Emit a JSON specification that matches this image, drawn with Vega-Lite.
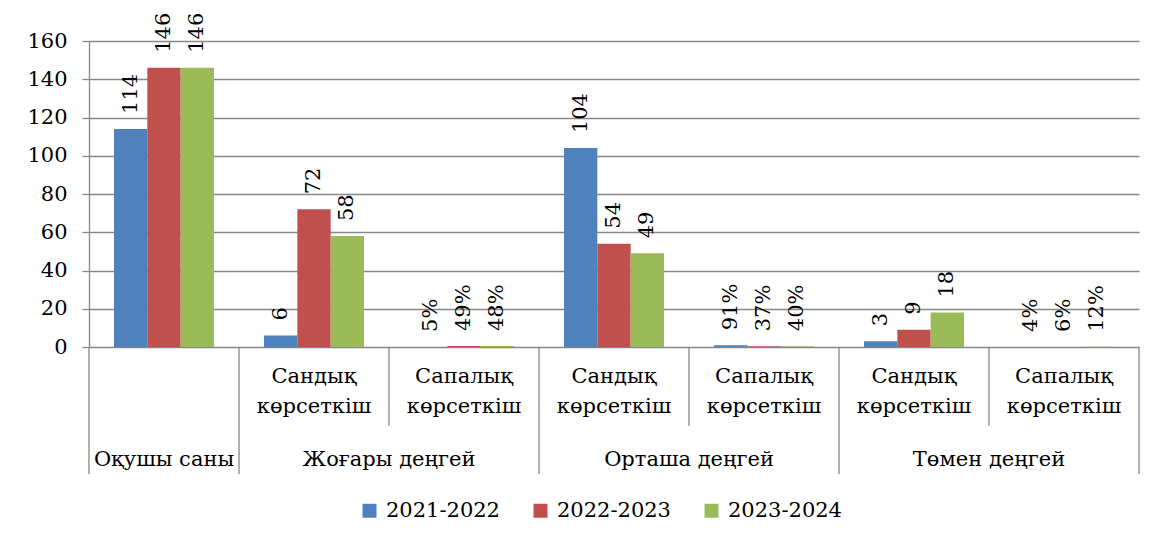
{
  "$schema": "https://vega.github.io/schema/vega-lite/v6.json",
  "padding": {"left": 26, "top": 12, "right": 20, "bottom": 5},
  "background": "white",
  "bounds": "flush",
  "config": {"view": {"stroke": null}, "font": "DejaVu Serif", "text": {"font": "DejaVu Serif"}, "axis": {"labelFont": "DejaVu Serif"}, "legend": {"labelFont": "DejaVu Serif"}},
  "spacing": 0,
  "resolve": {"scale": {"x": "shared", "y": "independent"}},
  "datasets": {
    "bars": [
      {"cat": "Оқушы саны", "group": "Оқушы саны", "sub": "", "kind": "count", "year": "2021-2022", "value": 114},
      {"cat": "Оқушы саны", "group": "Оқушы саны", "sub": "", "kind": "count", "year": "2022-2023", "value": 146},
      {"cat": "Оқушы саны", "group": "Оқушы саны", "sub": "", "kind": "count", "year": "2023-2024", "value": 146},
      {"cat": "Жоғары – Сандық", "group": "Жоғары деңгей", "sub": "Сандық көрсеткіш", "kind": "count", "year": "2021-2022", "value": 6},
      {"cat": "Жоғары – Сандық", "group": "Жоғары деңгей", "sub": "Сандық көрсеткіш", "kind": "count", "year": "2022-2023", "value": 72},
      {"cat": "Жоғары – Сандық", "group": "Жоғары деңгей", "sub": "Сандық көрсеткіш", "kind": "count", "year": "2023-2024", "value": 58},
      {"cat": "Жоғары – Сапалық", "group": "Жоғары деңгей", "sub": "Сапалық көрсеткіш", "kind": "share", "year": "2021-2022", "value": 0.05},
      {"cat": "Жоғары – Сапалық", "group": "Жоғары деңгей", "sub": "Сапалық көрсеткіш", "kind": "share", "year": "2022-2023", "value": 0.49},
      {"cat": "Жоғары – Сапалық", "group": "Жоғары деңгей", "sub": "Сапалық көрсеткіш", "kind": "share", "year": "2023-2024", "value": 0.48},
      {"cat": "Орташа – Сандық", "group": "Орташа деңгей", "sub": "Сандық көрсеткіш", "kind": "count", "year": "2021-2022", "value": 104},
      {"cat": "Орташа – Сандық", "group": "Орташа деңгей", "sub": "Сандық көрсеткіш", "kind": "count", "year": "2022-2023", "value": 54},
      {"cat": "Орташа – Сандық", "group": "Орташа деңгей", "sub": "Сандық көрсеткіш", "kind": "count", "year": "2023-2024", "value": 49},
      {"cat": "Орташа – Сапалық", "group": "Орташа деңгей", "sub": "Сапалық көрсеткіш", "kind": "share", "year": "2021-2022", "value": 0.91},
      {"cat": "Орташа – Сапалық", "group": "Орташа деңгей", "sub": "Сапалық көрсеткіш", "kind": "share", "year": "2022-2023", "value": 0.37},
      {"cat": "Орташа – Сапалық", "group": "Орташа деңгей", "sub": "Сапалық көрсеткіш", "kind": "share", "year": "2023-2024", "value": 0.40},
      {"cat": "Төмен – Сандық", "group": "Төмен деңгей", "sub": "Сандық көрсеткіш", "kind": "count", "year": "2021-2022", "value": 3},
      {"cat": "Төмен – Сандық", "group": "Төмен деңгей", "sub": "Сандық көрсеткіш", "kind": "count", "year": "2022-2023", "value": 9},
      {"cat": "Төмен – Сандық", "group": "Төмен деңгей", "sub": "Сандық көрсеткіш", "kind": "count", "year": "2023-2024", "value": 18},
      {"cat": "Төмен – Сапалық", "group": "Төмен деңгей", "sub": "Сапалық көрсеткіш", "kind": "share", "year": "2021-2022", "value": 0.04},
      {"cat": "Төмен – Сапалық", "group": "Төмен деңгей", "sub": "Сапалық көрсеткіш", "kind": "share", "year": "2022-2023", "value": 0.06},
      {"cat": "Төмен – Сапалық", "group": "Төмен деңгей", "sub": "Сапалық көрсеткіш", "kind": "share", "year": "2023-2024", "value": 0.12}
    ],
    "cats": [
      {"cat": "Оқушы саны", "group": "Оқушы саны", "sub": ""},
      {"cat": "Жоғары – Сандық", "group": "Жоғары деңгей", "sub": "Сандық көрсеткіш"},
      {"cat": "Жоғары – Сапалық", "group": "Жоғары деңгей", "sub": "Сапалық көрсеткіш"},
      {"cat": "Орташа – Сандық", "group": "Орташа деңгей", "sub": "Сандық көрсеткіш"},
      {"cat": "Орташа – Сапалық", "group": "Орташа деңгей", "sub": "Сапалық көрсеткіш"},
      {"cat": "Төмен – Сандық", "group": "Төмен деңгей", "sub": "Сандық көрсеткіш"},
      {"cat": "Төмен – Сапалық", "group": "Төмен деңгей", "sub": "Сапалық көрсеткіш"}
    ]
  },
  "vconcat": [
    {
      "width": 1050,
      "height": 306,
      "data": {"name": "bars"},
      "encoding": {
        "x": {"field": "cat", "type": "nominal", "scale": {"domain": ["Оқушы саны", "Жоғары – Сандық", "Жоғары – Сапалық", "Орташа – Сандық", "Орташа – Сапалық", "Төмен – Сандық", "Төмен – Сапалық"], "paddingInner": 0, "paddingOuter": 0}, "axis": null},
        "xOffset": {"field": "year", "type": "nominal", "scale": {"paddingInner": 0, "paddingOuter": 0.75}},
        "y": {"field": "value", "type": "quantitative", "scale": {"domain": [0, 160], "nice": false},
          "axis": {"values": [0, 20, 40, 60, 80, 100, 120, 140, 160], "title": null, "grid": true, "gridColor": "#878787", "gridWidth": 1.3, "domainColor": "#878787", "domainWidth": 1.3, "tickColor": "#878787", "tickWidth": 1.3, "tickSize": 7, "labelFont": "DejaVu Serif", "labelFontSize": 21, "labelColor": "black", "labelPadding": 15}}
      },
      "layer": [
        {
          "mark": {"type": "bar"},
          "encoding": {
            "color": {"field": "year", "type": "nominal", "scale": {"domain": ["2021-2022", "2022-2023", "2023-2024"], "range": ["#4F81BD", "#C0504D", "#9BBB59"]},
              "legend": {"orient": "none", "legendX": 270, "legendY": 459, "direction": "horizontal", "title": null, "symbolType": "square", "symbolSize": 196, "symbolStrokeWidth": 0, "labelFont": "DejaVu Serif", "labelFontSize": 21, "labelColor": "black", "columnPadding": 30, "labelOffset": 6}}
          }
        },
        {
          "transform": [{"filter": "datum.kind == 'count'"}],
          "mark": {"type": "text", "angle": 270, "align": "left", "baseline": "middle", "dx": 15, "font": "DejaVu Serif", "fontSize": 21, "color": "black"},
          "encoding": {"text": {"field": "value", "type": "quantitative", "format": "d"}}
        },
        {
          "transform": [{"filter": "datum.kind == 'share'"}],
          "mark": {"type": "text", "angle": 270, "align": "left", "baseline": "middle", "dx": 15, "font": "DejaVu Serif", "fontSize": 21, "color": "black"},
          "encoding": {"text": {"field": "value", "type": "quantitative", "format": ".0%"}}
        }
      ]
    },
    {
      "width": 1050,
      "height": 127,
      "data": {"name": "cats"},
      "encoding": {
        "y": {"datum": 0, "type": "quantitative", "scale": {"domain": [0, 1], "reverse": true, "nice": false}, "axis": null}
      },
      "layer": [
        {
          "transform": [{"filter": "datum.sub != 'Сапалық көрсеткіш'"}],
          "mark": {"type": "rule", "color": "#878787", "strokeWidth": 1.3},
          "encoding": {
            "x": {"field": "cat", "type": "nominal", "bandPosition": 0, "scale": {"domain": ["Оқушы саны", "Жоғары – Сандық", "Жоғары – Сапалық", "Орташа – Сандық", "Орташа – Сапалық", "Төмен – Сандық", "Төмен – Сапалық"], "paddingInner": 0, "paddingOuter": 0}, "axis": null},
            "y2": {"datum": 1}
          }
        },
        {
          "transform": [{"filter": "datum.sub == 'Сапалық көрсеткіш'"}],
          "mark": {"type": "rule", "color": "#878787", "strokeWidth": 1.3},
          "encoding": {
            "x": {"field": "cat", "type": "nominal", "bandPosition": 0, "axis": null},
            "y2": {"datum": 0.62}
          }
        },
        {
          "transform": [{"filter": "datum.cat == 'Төмен – Сапалық'"}],
          "mark": {"type": "rule", "color": "#878787", "strokeWidth": 1.3},
          "encoding": {
            "x": {"field": "cat", "type": "nominal", "bandPosition": 1, "axis": null},
            "y2": {"datum": 1}
          }
        },
        {
          "transform": [{"filter": "datum.sub != ''"}],
          "mark": {"type": "text", "lineBreak": " ", "lineHeight": 30, "font": "DejaVu Serif", "fontSize": 21, "color": "black", "align": "center", "baseline": "middle"},
          "encoding": {
            "x": {"field": "cat", "type": "nominal", "bandPosition": 0.5, "axis": null},
            "y": {"datum": 0.24, "type": "quantitative"},
            "text": {"field": "sub"}
          }
        },
        {
          "transform": [{"filter": "datum.sub == ''"}],
          "mark": {"type": "text", "font": "DejaVu Serif", "fontSize": 21, "color": "black", "align": "center", "baseline": "middle"},
          "encoding": {
            "x": {"field": "cat", "type": "nominal", "bandPosition": 0.5, "axis": null},
            "y": {"datum": 0.89, "type": "quantitative"},
            "text": {"field": "group"}
          }
        },
        {
          "transform": [{"filter": "datum.sub == 'Сандық көрсеткіш'"}],
          "mark": {"type": "text", "font": "DejaVu Serif", "fontSize": 21, "color": "black", "align": "center", "baseline": "middle"},
          "encoding": {
            "x": {"field": "cat", "type": "nominal", "bandPosition": 1, "axis": null},
            "y": {"datum": 0.89, "type": "quantitative"},
            "text": {"field": "group"}
          }
        }
      ]
    }
  ]
}
